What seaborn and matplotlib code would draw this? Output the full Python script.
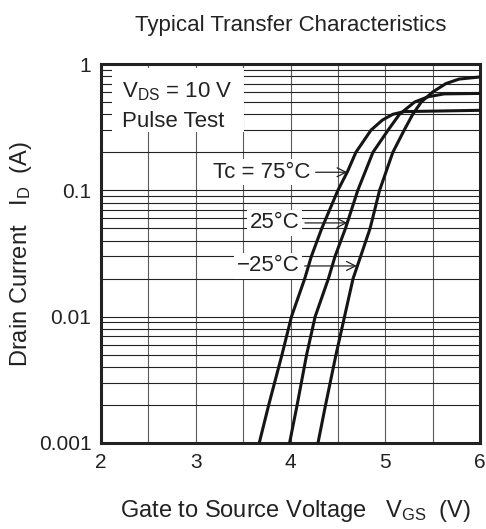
import numpy as np
import pandas as pd
import seaborn as sns
import matplotlib.pyplot as plt
from matplotlib.patches import Rectangle
from matplotlib.ticker import FixedLocator, NullFormatter

# Curve points (VGS in V, ID in A)
vgs_75 = [3.67, 3.77, 3.91, 4.01, 4.15, 4.22, 4.33, 4.50, 4.60, 4.69, 4.85, 4.97, 5.08, 5.20, 5.60, 6.00]
id_75 = [0.001, 0.002, 0.005, 0.01, 0.02, 0.03, 0.05, 0.1, 0.14, 0.2, 0.3, 0.36, 0.40, 0.42, 0.425, 0.43]

vgs_25 = [3.99, 4.07, 4.17, 4.26, 4.40, 4.47, 4.58, 4.71, 4.87, 5.03, 5.15, 5.31, 5.45, 5.62, 6.00]
id_25 = [0.001, 0.002, 0.005, 0.01, 0.02, 0.03, 0.05, 0.1, 0.2, 0.3, 0.4, 0.5, 0.55, 0.58, 0.585]

vgs_m25 = [4.29, 4.37, 4.48, 4.57, 4.66, 4.74, 4.84, 4.94, 5.08, 5.20, 5.29, 5.38, 5.50, 5.64, 5.78, 6.00]
id_m25 = [0.001, 0.002, 0.005, 0.01, 0.02, 0.03, 0.05, 0.1, 0.2, 0.3, 0.4, 0.5, 0.6, 0.7, 0.76, 0.79]

temps = ["75", "25", "-25"]

df = pd.concat([
    pd.DataFrame({"VGS": vgs_75, "ID": id_75, "Tc": "75"}),
    pd.DataFrame({"VGS": vgs_25, "ID": id_25, "Tc": "25"}),
    pd.DataFrame({"VGS": vgs_m25, "ID": id_m25, "Tc": "-25"}),
], ignore_index=True)

sns.set_style("white")
plt.rcParams["font.family"] = ["Liberation Sans", "DejaVu Sans"]
plt.rcParams["mathtext.fontset"] = "custom"
plt.rcParams["mathtext.rm"] = "Liberation Sans"
plt.rcParams["mathtext.it"] = "Liberation Sans"
plt.rcParams["lines.solid_joinstyle"] = "round"

ink = "#222222"

fig = plt.figure(figsize=(4.86, 5.29), dpi=100)
ax = fig.add_axes([0.2078, 0.1626, 0.7799, 0.7164])

ax.set_yscale("log")
ax.set_xlim(2, 6)
ax.set_ylim(0.001, 1)

# grid: vertical every 0.5 V, horizontal at 1-9 in each decade
for v in np.arange(2.5, 6.0, 0.5):
    ax.axvline(v, color="#5a5a5a", lw=0.8, zorder=1)
for dec in [0.001, 0.01, 0.1]:
    for m in range(1, 10):
        ax.axhline(dec * m, color="#222222", lw=0.8, zorder=1)

sns.lineplot(data=df, x="VGS", y="ID", hue="Tc", hue_order=temps,
             palette=["#151515"] * 3, lw=2.2, legend=False, sort=False,
             estimator=None, ax=ax, zorder=3)

ax.set_xticks([2, 3, 4, 5, 6])
ax.set_xticklabels(["2", "3", "4", "5", "6"])
ax.yaxis.set_major_locator(FixedLocator([0.001, 0.01, 0.1, 1]))
ax.yaxis.set_minor_locator(FixedLocator([]))
ax.yaxis.set_minor_formatter(NullFormatter())
ax.set_yticklabels(["0.001", "0.01", "0.1", "1"])
ax.tick_params(axis="both", length=0, labelsize=15, colors=ink)
ax.tick_params(axis="x", pad=7)
ax.tick_params(axis="y", pad=7)

for s in ax.spines.values():
    s.set_linewidth(2.2)
    s.set_color(ink)
    s.set_visible(True)

ax.set_title("Typical Transfer Characteristics", fontsize=16, pad=24, color=ink)
ax.set_xlabel("Gate to Source Voltage   V$_{\\mathrm{GS}}$  (V)", fontsize=17,
              labelpad=19, color=ink)
ax.xaxis.label.set_x(0.513)
ax.set_ylabel("Drain Current   I$_{\\mathrm{D}}$  (A)", fontsize=17,
              labelpad=3, color=ink)

# condition box
ax.add_patch(Rectangle((2.116, 0.29), 1.393, 0.641, facecolor="white",
                       edgecolor="none", zorder=2))
ax.text(2.22, 0.549, "V$_{\\mathrm{DS}}$ = 10 V", fontsize=16, ha="left",
        va="baseline", color=ink, zorder=4)
ax.text(2.22, 0.3176, "Pulse Test", fontsize=16, ha="left",
        va="baseline", color=ink, zorder=4)

box = dict(facecolor="white", edgecolor="none", pad=2)
arrow = dict(arrowstyle="->", lw=0.9, color=ink, shrinkA=2, shrinkB=0)
ax.annotate("Tc = 75°C", xy=(4.60, 0.139), xytext=(3.18, 0.139),
            fontsize=16, ha="left", va="center", color=ink,
            bbox=box, arrowprops=arrow, zorder=4)
ax.annotate("25°C", xy=(4.60, 0.0552), xytext=(3.57, 0.0552),
            fontsize=16, ha="left", va="center", color=ink,
            bbox=box, arrowprops=arrow, zorder=4)
ax.annotate("\u221225°C", xy=(4.70, 0.0252), xytext=(3.43, 0.0252),
            fontsize=16, ha="left", va="center", color=ink,
            bbox=box, arrowprops=arrow, zorder=4)

fig.savefig("out.png", dpi=100)
